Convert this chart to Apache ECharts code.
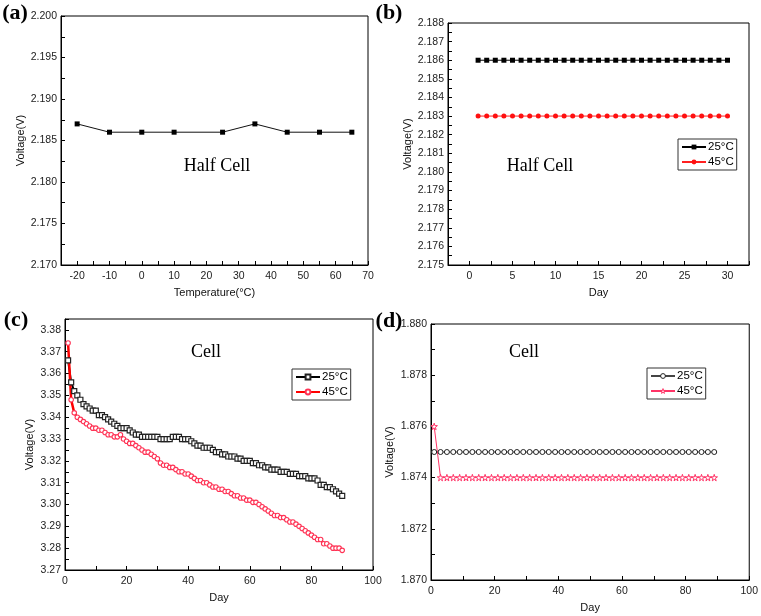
<!DOCTYPE html>
<html>
<head>
<meta charset="utf-8">
<script src="https://cdn.jsdelivr.net/npm/echarts@6/dist/echarts.min.js"></script>
<style>html,body{margin:0;padding:0;background:#fff}#c{width:761px;height:616px}</style>
</head>
<body>
<div id="c"></div>
<script>
// ---- Panel (a): voltage vs temperature (Half Cell)
const aTemp = [-20, -10, 0, 10, 25, 35, 45, 55, 65];
const aVolt = [2.187, 2.186, 2.186, 2.186, 2.186, 2.187, 2.186, 2.186, 2.186];

// ---- Panel (b): voltage vs day (Half Cell)
const bDays = [1,2,3,4,5,6,7,8,9,10,11,12,13,14,15,16,17,18,19,20,21,22,23,24,25,26,27,28,29,30];
const b25 = [2.186,2.186,2.186,2.186,2.186,2.186,2.186,2.186,2.186,2.186,2.186,2.186,2.186,2.186,2.186,
             2.186,2.186,2.186,2.186,2.186,2.186,2.186,2.186,2.186,2.186,2.186,2.186,2.186,2.186,2.186];
const b45 = [2.183,2.183,2.183,2.183,2.183,2.183,2.183,2.183,2.183,2.183,2.183,2.183,2.183,2.183,2.183,
             2.183,2.183,2.183,2.183,2.183,2.183,2.183,2.183,2.183,2.183,2.183,2.183,2.183,2.183,2.183];

// ---- Panel (c): voltage vs day (Cell)
const cDays = [1,2,3,4,5,6,7,8,9,10,11,12,13,14,15,16,17,18,19,20,21,22,23,24,25,26,27,28,29,30,
               31,32,33,34,35,36,37,38,39,40,41,42,43,44,45,46,47,48,49,50,51,52,53,54,55,56,57,58,59,60,
               61,62,63,64,65,66,67,68,69,70,71,72,73,74,75,76,77,78,79,80,81,82,83,84,85,86,87,88,89,90];
const c25 = [3.366,3.356,3.352,3.350,3.348,3.346,3.345,3.344,3.343,3.343,
             3.341,3.341,3.340,3.339,3.338,3.337,3.336,3.335,3.335,3.335,
             3.334,3.333,3.332,3.332,3.331,3.331,3.331,3.331,3.331,3.331,
             3.330,3.330,3.330,3.330,3.331,3.331,3.331,3.330,3.330,3.330,
             3.329,3.328,3.327,3.327,3.326,3.326,3.326,3.325,3.324,3.324,
             3.323,3.323,3.322,3.322,3.322,3.321,3.321,3.320,3.320,3.320,
             3.319,3.319,3.318,3.318,3.317,3.317,3.316,3.316,3.316,3.315,
             3.315,3.315,3.314,3.314,3.314,3.313,3.313,3.313,3.312,3.312,
             3.312,3.311,3.309,3.309,3.308,3.308,3.307,3.306,3.305,3.304];
const c45 = [3.374,3.348,3.342,3.340,3.339,3.338,3.337,3.336,3.335,3.335,
             3.334,3.334,3.333,3.332,3.332,3.331,3.331,3.332,3.330,3.329,
             3.328,3.328,3.327,3.326,3.325,3.324,3.324,3.323,3.322,3.321,
             3.319,3.318,3.318,3.317,3.317,3.316,3.315,3.315,3.314,3.314,
             3.313,3.312,3.311,3.311,3.310,3.310,3.309,3.308,3.308,3.307,
             3.307,3.306,3.306,3.305,3.304,3.304,3.303,3.303,3.302,3.302,
             3.301,3.301,3.300,3.299,3.298,3.297,3.296,3.295,3.295,3.294,
             3.294,3.293,3.292,3.292,3.291,3.290,3.289,3.288,3.287,3.286,
             3.285,3.284,3.284,3.282,3.282,3.281,3.280,3.280,3.280,3.279];

// ---- Panel (d): voltage vs day (Cell)
const dDays = [1,3,5,7,9,11,13,15,17,19,21,23,25,27,29,31,33,35,37,39,41,43,45,
               47,49,51,53,55,57,59,61,63,65,67,69,71,73,75,77,79,81,83,85,87,89];
const d25 = [1.875,1.875,1.875,1.875,1.875,1.875,1.875,1.875,1.875,1.875,1.875,1.875,1.875,1.875,1.875,
             1.875,1.875,1.875,1.875,1.875,1.875,1.875,1.875,1.875,1.875,1.875,1.875,1.875,1.875,1.875,
             1.875,1.875,1.875,1.875,1.875,1.875,1.875,1.875,1.875,1.875,1.875,1.875,1.875,1.875,1.875];
const d45 = [1.876,1.874,1.874,1.874,1.874,1.874,1.874,1.874,1.874,1.874,1.874,1.874,1.874,1.874,1.874,
             1.874,1.874,1.874,1.874,1.874,1.874,1.874,1.874,1.874,1.874,1.874,1.874,1.874,1.874,1.874,
             1.874,1.874,1.874,1.874,1.874,1.874,1.874,1.874,1.874,1.874,1.874,1.874,1.874,1.874,1.874];

const legendNames = { b25: '25°C', b45: '45°C', c25: '25°C', c45: '45°C', d25: '25°C', d45: '45°C' };

const SANS = '"Liberation Sans", Arial, sans-serif';
const SERIF = '"Liberation Serif", "Times New Roman", serif';
const STAR = 'path://M50,0 L61,35 L98,35 L68,57 L79,91 L50,70 L21,91 L32,57 L2,35 L39,35 Z';

function zip(xs, ys) { return xs.map((x, i) => [x, ys[i]]); }
function fmt(step, dec) {
  return function (v) {
    const r = v / step;
    return Math.abs(r - Math.round(r)) < 1e-6 ? Number(v).toFixed(dec) : '';
  };
}
function xAx(grid, min, max, interval, labStep, dec, name) {
  return {
    type: 'value', gridIndex: grid, min: min, max: max, interval: interval,
    name: name, nameLocation: 'middle', nameGap: 22,
    nameTextStyle: { fontFamily: SANS, fontSize: 11, color: '#111' },
    axisLine: { show: true, onZero: false, lineStyle: { color: '#000', width: 1 } },
    axisTick: { show: true, inside: true, length: 4, lineStyle: { color: '#000' } },
    axisLabel: { margin: 6, fontFamily: SANS, fontSize: 10.5, color: '#222', formatter: fmt(labStep, dec) },
    splitLine: { show: false }
  };
}
function yAx(grid, min, max, interval, labStep, dec, gap) {
  return {
    type: 'value', gridIndex: grid, min: min, max: max, interval: interval,
    name: 'Voltage(V)', nameLocation: 'middle', nameGap: gap,
    nameTextStyle: { fontFamily: SANS, fontSize: 11, color: '#111' },
    axisLine: { show: true, onZero: false, lineStyle: { color: '#000', width: 1 } },
    axisTick: { show: true, inside: true, length: 4, lineStyle: { color: '#000' } },
    axisLabel: { margin: 4, fontFamily: SANS, fontSize: 10.5, color: '#222', formatter: fmt(labStep, dec) },
    splitLine: { show: false }
  };
}
function legend(items, left, top) {
  return {
    data: items, left: left, top: top, orient: 'vertical',
    formatter: n => legendNames[n],
    itemWidth: 24, itemHeight: 6, itemGap: 3,
    padding: [2, 3, 2, 3],
    borderColor: '#333', borderWidth: 1,
    selectedMode: false,
    textStyle: { fontFamily: SANS, fontSize: 11.5, color: '#000', lineHeight: 12, padding: [0, 0, 0, -3] }
  };
}
function txt(x, y, s, font) {
  return { type: 'text', x: x, y: y, style: { text: s, font: font, fill: '#000', align: 'center', verticalAlign: 'middle' } };
}

const chart = echarts.init(document.getElementById('c'), null, { renderer: 'canvas' });
chart.setOption({
  animation: false,
  backgroundColor: '#fff',
  grid: [
    { left: 61, top: 16, width: 307, height: 249, show: true, borderColor: '#000', borderWidth: 1 },
    { left: 448, top: 23, width: 301, height: 242, show: true, borderColor: '#000', borderWidth: 1 },
    { left: 65, top: 319, width: 308, height: 251, show: true, borderColor: '#000', borderWidth: 1 },
    { left: 431, top: 324, width: 321, height: 256, show: true, borderColor: '#000', borderWidth: 1 }
  ],
  xAxis: [
    xAx(0, -25, 70, 5, 10, 0, 'Temperature(°C)'),
    xAx(1, -2.5, 32.5, 2.5, 5, 0, 'Day'),
    xAx(2, 0, 100, 10, 20, 0, 'Day'),
    xAx(3, 0, 100, 10, 20, 0, 'Day')
  ],
  yAxis: [
    yAx(0, 2.170, 2.200, 0.0025, 0.005, 3, 35),
    yAx(1, 2.175, 2.188, 0.0005, 0.001, 3, 34),
    yAx(2, 3.27, 3.385, 0.005, 0.01, 2, 30),
    yAx(3, 1.870, 1.880, 0.001, 0.002, 3, 36)
  ],
  legend: [
    legend(['b25', 'b45'], 678, 139),
    legend(['c25', 'c45'], 292, 369),
    legend([
      { name: 'd25', itemStyle: { color: '#fff', borderColor: '#222', borderWidth: 1 } },
      { name: 'd45', itemStyle: { color: '#fff', borderColor: '#ff3366', borderWidth: 1 } }
    ], 647, 368)
  ],
  graphic: [
    txt(15, 13, '(a)', 'bold 22px ' + SERIF),
    txt(389, 13, '(b)', 'bold 22px ' + SERIF),
    txt(16, 320, '(c)', 'bold 22px ' + SERIF),
    txt(389, 321, '(d)', 'bold 22px ' + SERIF),
    txt(217, 166, 'Half Cell', '18px ' + SERIF),
    txt(540, 166, 'Half Cell', '18px ' + SERIF),
    txt(206, 352, 'Cell', '18px ' + SERIF),
    txt(524, 352, 'Cell', '18px ' + SERIF)
  ],
  series: [
    { name: 'a', type: 'line', xAxisIndex: 0, yAxisIndex: 0, data: zip(aTemp, aVolt),
      symbol: 'rect', symbolSize: 5, showAllSymbol: true,
      lineStyle: { color: '#111', width: 1 }, itemStyle: { color: '#000' } },
    { name: 'b25', type: 'line', xAxisIndex: 1, yAxisIndex: 1, data: zip(bDays, b25),
      symbol: 'rect', symbolSize: 5, showAllSymbol: true,
      lineStyle: { color: '#000', width: 1 }, itemStyle: { color: '#000' } },
    { name: 'b45', type: 'line', xAxisIndex: 1, yAxisIndex: 1, data: zip(bDays, b45),
      symbol: 'circle', symbolSize: 5, showAllSymbol: true,
      lineStyle: { color: '#ff2020', width: 1 }, itemStyle: { color: '#ff1010' } },
    { name: 'c25', type: 'line', xAxisIndex: 2, yAxisIndex: 2, data: zip(cDays, c25),
      symbol: 'rect', symbolSize: 5, showAllSymbol: true,
      lineStyle: { color: '#000', width: 2 }, itemStyle: { color: '#fff', borderColor: '#222', borderWidth: 1.2 } },
    { name: 'c45', type: 'line', xAxisIndex: 2, yAxisIndex: 2, data: zip(cDays, c45),
      symbol: 'circle', symbolSize: 4.5, showAllSymbol: true,
      lineStyle: { color: '#ff0000', width: 2.5 }, itemStyle: { color: '#fff', borderColor: '#ff3355', borderWidth: 1.1 } },
    { name: 'd25', type: 'line', xAxisIndex: 3, yAxisIndex: 3, data: zip(dDays, d25),
      symbol: 'circle', symbolSize: 5, showAllSymbol: true,
      lineStyle: { color: '#444', width: 1 }, itemStyle: { color: '#fff', borderColor: '#222', borderWidth: 1 } },
    { name: 'd45', type: 'line', xAxisIndex: 3, yAxisIndex: 3, data: zip(dDays, d45),
      symbol: STAR, symbolSize: 6.5, showAllSymbol: true,
      lineStyle: { color: '#ff3366', width: 1 }, itemStyle: { color: '#fff', borderColor: '#ff3366', borderWidth: 1 } }
  ]
});
</script>
</body>
</html>
